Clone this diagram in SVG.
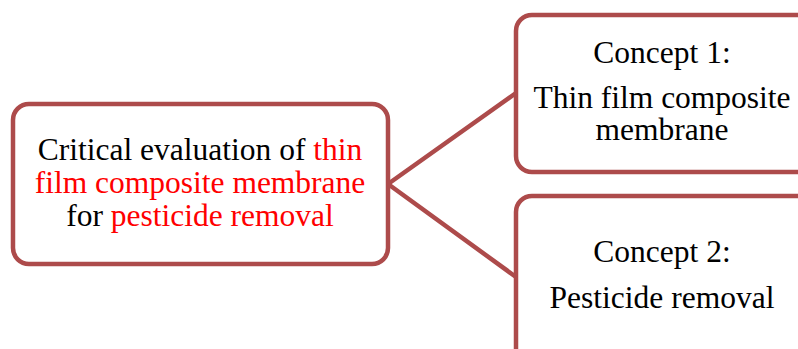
<svg xmlns="http://www.w3.org/2000/svg" width="798" height="349" viewBox="0 0 798 349">
  <style>
    .box { fill: #ffffff; stroke: #AD4B4B; stroke-width: 4.5; }
    .link { stroke: #AD4B4B; stroke-width: 4.5; fill: none; stroke-linecap: round; }
    .t { font-family: "Liberation Serif", "Times New Roman", serif; font-size: 31.5px; fill: #000000; text-anchor: middle; }
    .hl { fill: #FF0000; }
  </style>
  <rect width="798" height="349" fill="#ffffff"/>
  <g id="connectors">
    <line class="link" x1="388" y1="184" x2="516" y2="93"/>
    <line class="link" x1="388" y1="184" x2="516" y2="277"/>
  </g>
  <g id="main">
    <rect class="box" x="13" y="104" width="375" height="160" rx="16"/>
    <text class="t" x="200" y="160">Critical evaluation of <tspan class="hl">thin</tspan></text>
    <text class="t hl" x="200" y="193">film composite membrane</text>
    <text class="t" x="200" y="226">for <tspan class="hl">pesticide removal</tspan></text>
  </g>
  <g id="concept1">
    <rect class="box" x="516" y="15" width="300" height="157" rx="16"/>
    <text class="t" x="662" y="63">Concept 1:</text>
    <text class="t" x="662" y="108">Thin film composite</text>
    <text class="t" x="662" y="140">membrane</text>
  </g>
  <g id="concept2">
    <rect class="box" x="516" y="196" width="300" height="180" rx="16"/>
    <text class="t" x="662" y="262">Concept 2:</text>
    <text class="t" x="662" y="308">Pesticide removal</text>
  </g>
</svg>
